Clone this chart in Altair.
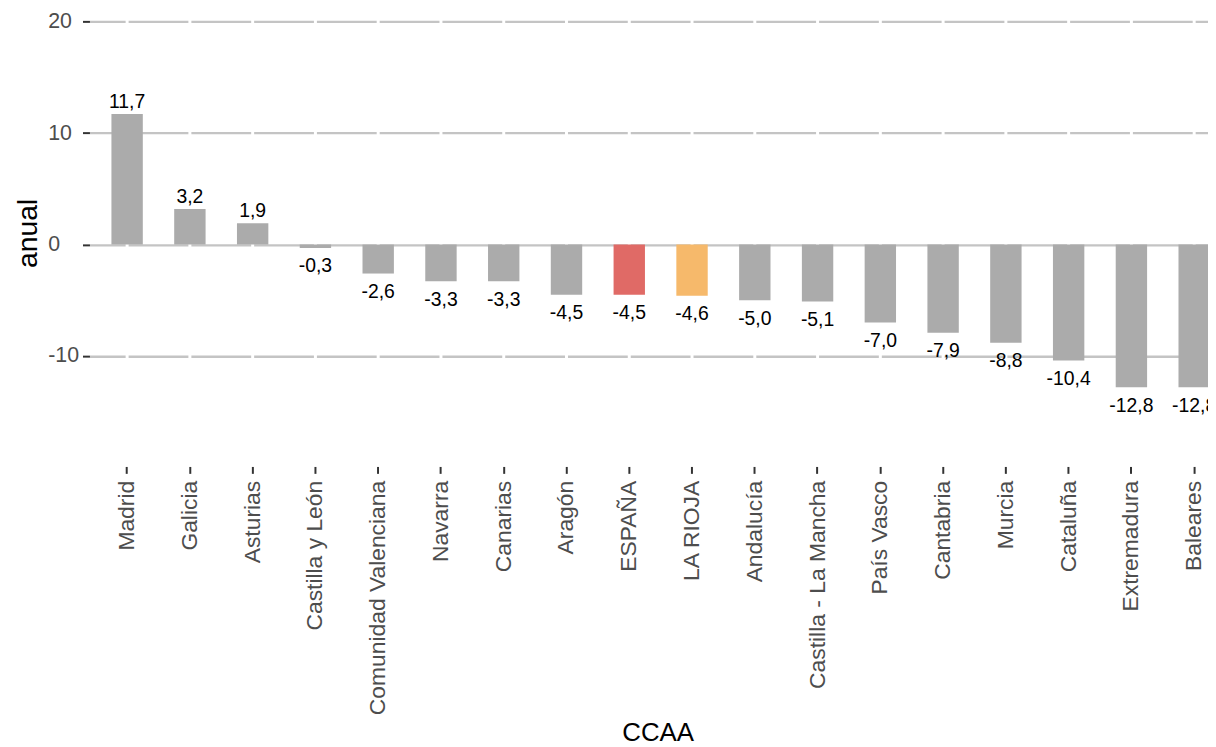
import altair as alt
import pandas as pd

ccaa = ["Madrid", "Galicia", "Asturias", "Castilla y León", "Comunidad Valenciana",
        "Navarra", "Canarias", "Aragón", "ESPAÑA", "LA RIOJA", "Andalucía",
        "Castilla - La Mancha", "País Vasco", "Cantabria", "Murcia", "Cataluña",
        "Extremadura", "Baleares"]
anual = [11.7, 3.2, 1.9, -0.3, -2.6, -3.3, -3.3, -4.5, -4.5, -4.6, -5.0, -5.1,
         -7.0, -7.9, -8.8, -10.4, -12.8, -12.8]
y_ticks = [-10, 0, 10, 20]

df = pd.DataFrame({"CCAA": ccaa, "anual": anual})

FONT = "Liberation Sans"
PLOT_H = 459

base = alt.Chart(df).transform_calculate(
    label="(datum.anual < 0 ? '-' : '') + replace(format(abs(datum.anual), '.1f'), '.', ',')",
    tipo="datum.CCAA == 'ESPAÑA' ? 'esp' : (datum.CCAA == 'LA RIOJA' ? 'rioja' : 'otro')",
)

x_enc = alt.X(
    "CCAA:N",
    sort=ccaa,
    scale=alt.Scale(range=[0, 1150], paddingInner=0.5, paddingOuter=0.35),
    axis=alt.Axis(
        grid=False, domain=False, tickSize=7, tickWidth=2, tickColor="#333333",
        labelAngle=-90, labelPadding=7, labelFontSize=23, labelColor="#4D4D4D",
        labelFont=FONT, labelLimit=500,
        title="CCAA", titleFont=FONT, titleFontSize=26, titleFontWeight="normal",
        titleColor="black", titleX=572, titleY=276, titleBaseline="alphabetic",
    ),
)

y_enc = alt.Y(
    "anual:Q",
    scale=alt.Scale(domain=[-19.9, 21], nice=False, zero=False),
    axis=alt.Axis(
        values=y_ticks, grid=True, gridColor="#C4C4C4", gridWidth=2.5,
        domain=False, tickSize=7, tickWidth=2, tickColor="#333333",
        labelAlign="left", labelBaseline="middle", labelPadding=35,
        labelFontSize=21.5, labelColor="#4D4D4D", labelFont=FONT,
        labelExpr="datum.value < 0 ? '-' + abs(datum.value) : '' + datum.value",
        title="anual", titleFont=FONT, titleFontSize=28.5, titleFontWeight="normal",
        titleColor="black", titleX=-53, titleY=224, titleBaseline="alphabetic",
    ),
)

vgrid = base.mark_rule(color="white", strokeWidth=3).encode(
    x=x_enc, y=alt.value(0), y2=alt.value(PLOT_H)
)

bars = base.mark_bar().encode(
    x=x_enc,
    y=y_enc,
    y2=alt.datum(0),
    color=alt.Color(
        "tipo:N",
        scale=alt.Scale(domain=["otro", "esp", "rioja"],
                        range=["#ABABAB", "#E06A66", "#F6B96B"]),
        legend=None,
    ),
)

pos_text = base.transform_filter("datum.anual >= 0").mark_text(
    baseline="alphabetic", dy=-6, fontSize=19.5, font=FONT, color="black"
).encode(x=x_enc, y=y_enc, text="label:N")

neg_text = base.transform_filter("datum.anual < 0").mark_text(
    baseline="alphabetic", dy=24.5, fontSize=19.5, font=FONT, color="black"
).encode(x=x_enc, y=y_enc, text="label:N")

chart = alt.layer(vgrid, bars, pos_text, neg_text).properties(
    width=1126,
    height=PLOT_H,
    autosize=alt.AutoSizeParams(type="none"),
    padding={"left": 82, "top": 0, "right": 0, "bottom": 279},
    background="white",
).configure_view(stroke=None)

chart.save("out.html", embed_options={"renderer": "svg", "actions": False})
